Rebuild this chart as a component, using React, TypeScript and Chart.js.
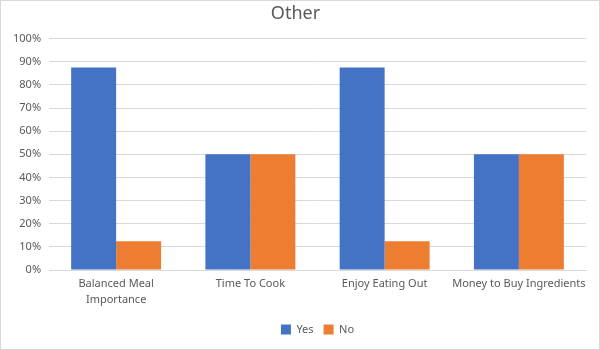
import React, { useEffect, useRef } from "react";
import { Chart, registerables } from "chart.js";

Chart.register(...registerables);

const categories: (string | string[])[] = [
  ["Balanced Meal", "Importance"],
  "Time To Cook",
  "Enjoy Eating Out",
  "Money to Buy Ingredients",
];
const yesValues = [87.5, 50, 87.5, 50];
const noValues = [12.5, 50, 12.5, 50];
const chartTitle = "Other";

export default function App() {
  const ref = useRef<HTMLCanvasElement | null>(null);
  useEffect(() => {
    document.body.style.margin = "0";
    if (!ref.current) return;
    const font = "'Noto Sans', 'Open Sans', sans-serif";
    const chart = new Chart(ref.current, {
      type: "bar",
      data: {
        labels: categories,
        datasets: [
          { label: "Yes", data: yesValues, backgroundColor: "#4472C4", borderWidth: 0 },
          { label: "No", data: noValues, backgroundColor: "#ED7D31", borderWidth: 0 },
        ],
      },
      options: {
        animation: false,
        responsive: true,
        maintainAspectRatio: false,
        layout: { padding: { left: 4, right: 13, top: 0, bottom: 4 } },
        datasets: { bar: { categoryPercentage: 0.67, barPercentage: 1 } },
        plugins: {
          title: {
            display: true,
            text: chartTitle,
            color: "#595959",
            font: { family: font, size: 18, weight: "normal" },
            padding: { top: 2, bottom: 14 },
          },
          legend: {
            position: "bottom",
            fullSize: false,
            labels: {
              boxWidth: 10,
              boxHeight: 10,
              color: "#595959",
              font: { family: font, size: 11 },
              padding: 10,
            },
          },
          tooltip: { enabled: false },
        },
        scales: {
          x: {
            grid: { display: false, drawTicks: false },
            border: { color: "#d9d9d9" },
            ticks: {
              color: "#595959",
              font: { family: font, size: 11, lineHeight: 1.45 },
              padding: 6,
              maxRotation: 0,
              autoSkip: false,
            },
          },
          y: {
            min: 0,
            max: 100,
            grid: { color: "#d9d9d9", drawTicks: false },
            border: { display: false },
            ticks: {
              stepSize: 10,
              color: "#595959",
              font: { family: font, size: 11 },
              padding: 8,
              callback: (v: any) => v + "%",
            },
          },
        },
      },
    });
    return () => chart.destroy();
  }, []);
  return (
    <div
      style={{
        position: "absolute",
        left: 0,
        top: 0,
        width: 600,
        height: 350,
        border: "1px solid #d9d9d9",
        boxSizing: "border-box",
        background: "#fff",
      }}
    >
      <canvas ref={ref} />
    </div>
  );
}
